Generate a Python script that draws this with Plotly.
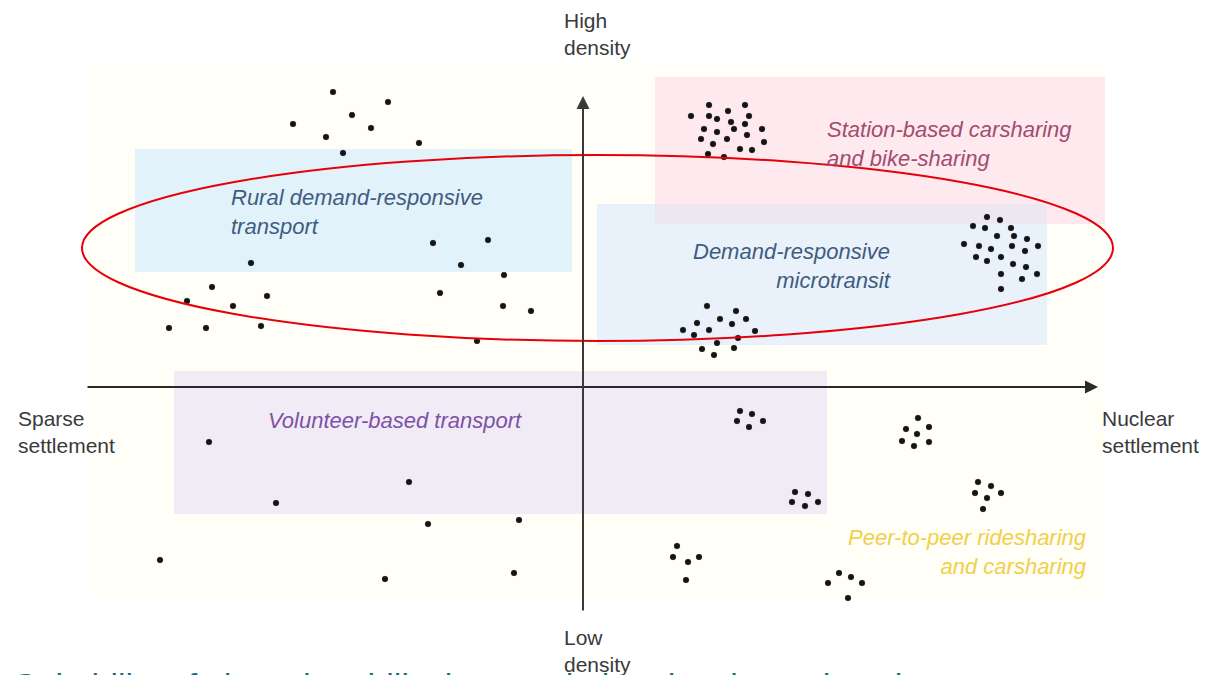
import plotly.graph_objects as go

# ---- data: dot positions (image pixel coordinates) ----
rural_top_x = [333, 388, 352, 293, 371, 326, 419, 343]
rural_top_y = [92, 102, 115, 124, 128, 137, 143, 153]
rural_left_x = [251, 212, 187, 233, 267, 169, 206, 261]
rural_left_y = [263, 287, 301, 306, 296, 328, 328, 326]
rural_right_x = [433, 488, 461, 504, 440, 503, 531, 477]
rural_right_y = [243, 240, 265, 275, 293, 306, 311, 341]

station_x = [709, 745, 691, 709, 728, 749, 717, 731, 745, 704, 734, 762, 717, 747, 701, 727, 764, 713, 740, 752, 708, 724]
station_y = [105, 105, 116, 116, 111, 116, 119, 122, 124, 129, 129, 129, 132, 135, 139, 139, 142, 144, 149, 150, 154, 157]

micro_right_x = [987, 1000, 973, 985, 1011, 997, 1014, 1027, 964, 979, 991, 1012, 1025, 1038, 976, 1001, 987, 1013, 1026, 1001, 1022, 1037, 1001]
micro_right_y = [217, 220, 226, 228, 228, 236, 236, 239, 244, 246, 249, 246, 251, 246, 257, 257, 261, 264, 267, 274, 279, 274, 289]
micro_low_x = [707, 736, 720, 746, 697, 732, 683, 709, 755, 694, 738, 717, 702, 734, 714]
micro_low_y = [306, 311, 319, 319, 323, 324, 330, 330, 331, 335, 338, 343, 349, 348, 355]

volunteer_x = [209, 276, 409, 428, 519, 160, 385, 514]
volunteer_y = [442, 503, 482, 524, 520, 560, 579, 573]

p2p_x = [740, 752, 737, 763, 749,
         918, 906, 929, 917, 902, 929, 914,
         795, 808, 792, 818, 805,
         978, 991, 975, 1001, 987, 983,
         677, 673, 688, 699, 686,
         839, 851, 828, 862, 848]
p2p_y = [411, 414, 421, 421, 427,
         418, 429, 427, 434, 441, 442, 446,
         492, 494, 502, 502, 506,
         482, 486, 493, 493, 498, 509,
         546, 557, 562, 557, 580,
         573, 577, 583, 583, 598]

region_labels = [
    "Rural demand-responsive<br>transport",
    "Station-based carsharing<br>and bike-sharing",
    "Demand-responsive<br>microtransit",
    "Volunteer-based transport",
    "Peer-to-peer ridesharing<br>and carsharing",
]
axis_labels = ["High<br>density", "Low<br>density", "Sparse<br>settlement", "Nuclear<br>settlement"]
caption = "Suitability of shared mobility by population density and settlement type"

# page offset of the plot div inside the browser (body margin)
OFF = 8

# ---- figure ----
fig = go.Figure()

groups = [
    (rural_top_x, rural_top_y), (rural_left_x, rural_left_y), (rural_right_x, rural_right_y),
    (station_x, station_y), (micro_right_x, micro_right_y), (micro_low_x, micro_low_y),
    (volunteer_x, volunteer_y), (p2p_x, p2p_y),
]
for gx, gy in groups:
    fig.add_trace(go.Scatter(
        x=gx, y=gy, mode="markers",
        marker=dict(size=6, color="#141414", line=dict(width=0.8, color="rgba(80,80,80,0.3)")),
        hoverinfo="skip", showlegend=False,
    ))

shapes = [
    dict(type="rect", x0=88, x1=1106, y0=62, y1=596, fillcolor="#fffef7", line=dict(width=0), layer="below"),
    dict(type="rect", x0=135, x1=572, y0=149, y1=272, fillcolor="#e2f2fb", line=dict(width=0), layer="below"),
    dict(type="rect", x0=655, x1=1105, y0=77, y1=224, fillcolor="#fde9ee", line=dict(width=0), layer="below"),
    dict(type="rect", x0=597, x1=1047, y0=204, y1=345, fillcolor="#e9f1fa", line=dict(width=0), layer="below"),
    dict(type="rect", x0=655, x1=1047, y0=204, y1=224, fillcolor="#ece7f1", line=dict(width=0), layer="below"),
    dict(type="rect", x0=174, x1=827, y0=371, y1=514, fillcolor="#f1ebf6", line=dict(width=0), layer="below"),
    dict(type="circle", x0=82, x1=1113, y0=155, y1=341, line=dict(color="#e6000a", width=2), layer="above"),
]
fig.update_layout(shapes=shapes)

ann = []
ann.append(dict(x=1098, y=387, ax=86, ay=387, xref="x", yref="y", axref="x", ayref="y",
                text="", showarrow=True, arrowhead=2, arrowsize=1.3, arrowwidth=2, arrowcolor="#2a2a2a"))
ann.append(dict(x=583, y=96, ax=583, ay=612, xref="x", yref="y", axref="x", ayref="y",
                text="", showarrow=True, arrowhead=2, arrowsize=1.3, arrowwidth=2, arrowcolor="#3a3a3a"))

lab_font = "Liberation Sans, Arial, sans-serif"
def label(x, y, text, color, xanchor="left", align="left", size=22):
    ann.append(dict(x=x, y=y, xref="x", yref="y", text=text, showarrow=False,
                    xanchor=xanchor, yanchor="middle", align=align,
                    font=dict(family=lab_font, size=size, color=color)))

def ital(s):
    return "<i>" + s.replace("<br>", "</i><br><i>") + "</i>"

label(229, 212, ital(region_labels[0]), "#3f5c80")
label(825, 144, ital(region_labels[1]), "#a34c70")
label(893, 266, ital(region_labels[2]), "#3f5c80", xanchor="right", align="right")
label(266, 420, ital(region_labels[3]), "#7d52a6")
label(1089, 552, ital(region_labels[4]), "#f0d04a", xanchor="right", align="right")

label(562, 34, axis_labels[0], "#3a3a3a", size=21)
label(562, 651, axis_labels[1], "#3a3a3a", size=21)
label(16, 432, axis_labels[2], "#3a3a3a", size=21)
label(1100, 432, axis_labels[3], "#3a3a3a", size=21)

# caption, cut off by the bottom edge as in the reference
ann.append(dict(x=12, y=664, xref="x", yref="y", text=caption, showarrow=False,
                xanchor="left", yanchor="top", align="left",
                font=dict(family=lab_font, size=34, color="#1d6d7c")))

fig.update_layout(
    annotations=ann,
    width=1207, height=675,
    margin=dict(l=0, r=0, t=0, b=0),
    paper_bgcolor="white", plot_bgcolor="white",
    xaxis=dict(range=[OFF, 1207 + OFF], visible=False, fixedrange=True),
    yaxis=dict(range=[675 + OFF, OFF], visible=False, fixedrange=True),
    showlegend=False,
)

fig.write_html("out.html")
